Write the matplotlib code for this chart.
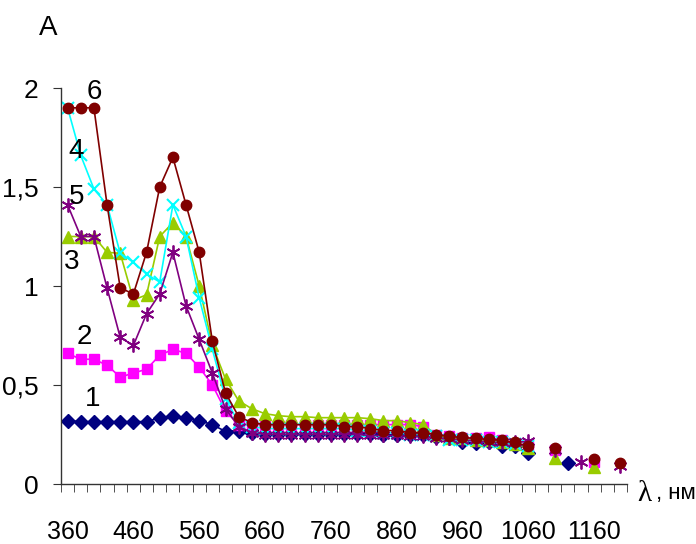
import numpy as np
import matplotlib
matplotlib.use("Agg")
import matplotlib.pyplot as plt
from matplotlib import font_manager

nan = np.nan

# wavelength categories, nm
wl = np.arange(360, 1201, 20)

# absorbance of samples 1..6 (gaps where nothing was measured)
a1 = [0.32, 0.315, 0.315, 0.315, 0.315, 0.315, 0.315, 0.335, 0.345, 0.335, 0.32, 0.30, 0.265,
      0.27, 0.26, 0.255, 0.255, 0.255, 0.255, 0.255, 0.255, 0.255, 0.255, 0.255, 0.25, 0.25,
      0.25, 0.245, 0.235, 0.23, 0.21, 0.205, 0.21, 0.19, 0.19, 0.157, nan, nan, 0.108, nan,
      nan, nan, nan]
a2 = [0.66, 0.63, 0.63, 0.60, 0.54, 0.56, 0.58, 0.65, 0.68, 0.66, 0.59, 0.50, 0.37,
      0.30, 0.30, 0.30, 0.30, 0.30, 0.30, 0.30, 0.30, 0.30, 0.30, 0.30, 0.30, 0.30,
      0.30, 0.29, 0.25, 0.24, 0.23, 0.23, 0.235, 0.22, 0.20, 0.19, nan, 0.17, nan, nan,
      0.11, nan, nan]
a3 = [1.25, 1.25, 1.25, 1.17, 1.165, 0.93, 0.955, 1.25, 1.32, 1.25, 1.0, 0.70, 0.53,
      0.42, 0.38, 0.355, 0.345, 0.34, 0.34, 0.335, 0.335, 0.335, 0.335, 0.33, 0.32, 0.32,
      0.31, 0.30, 0.25, 0.23, 0.23, 0.22, 0.22, 0.21, 0.20, 0.18, nan, 0.13, nan, nan,
      0.085, nan, nan]
a4 = [1.90, 1.66, 1.49, 1.41, 1.165, 1.12, 1.06, 1.02, 1.41, 1.25, 0.94, 0.68, 0.43,
      0.31, 0.29, 0.28, 0.28, 0.28, 0.28, 0.28, 0.28, 0.28, 0.27, 0.27, 0.26, 0.26,
      0.25, 0.25, 0.24, 0.22, 0.22, 0.22, 0.21, 0.21, 0.20, 0.19, nan, nan, nan, nan,
      nan, nan, nan]
a5 = [1.41, 1.25, 1.25, 0.99, 0.74, 0.70, 0.86, 0.96, 1.17, 0.90, 0.73, 0.56, 0.38,
      0.29, 0.26, 0.25, 0.25, 0.25, 0.25, 0.25, 0.25, 0.25, 0.25, 0.245, 0.245, 0.245,
      0.24, 0.24, 0.23, 0.23, 0.22, 0.22, 0.21, 0.21, 0.21, 0.215, nan, 0.17, nan, 0.113,
      nan, nan, 0.09]
a6 = [1.90, 1.90, 1.90, 1.41, 0.99, 0.96, 1.17, 1.50, 1.65, 1.41, 1.17, 0.72, 0.46,
      0.34, 0.31, 0.30, 0.30, 0.30, 0.30, 0.30, 0.30, 0.29, 0.29, 0.28, 0.27, 0.27,
      0.26, 0.26, 0.25, 0.24, 0.235, 0.23, 0.225, 0.22, 0.21, 0.19, nan, 0.18, nan, nan,
      0.125, nan, 0.105]

yticks = [0, 0.5, 1, 1.5, 2]
ytick_labels = ["0", "0,5", "1", "1,5", "2"]
xticks = np.arange(360, 1161, 100)


def pick_font(names):
    for n in names:
        try:
            font_manager.findfont(font_manager.FontProperties(family=n),
                                  fallback_to_default=False)
            return n
        except ValueError:
            pass
    return "DejaVu Sans"


sans = pick_font(["Liberation Sans Narrow", "Liberation Sans", "Arial"])
plt.rcParams["font.family"] = [sans, "DejaVu Sans"]

fig = plt.figure(figsize=(6.96, 5.44), dpi=100)
ax = fig.add_axes([61 / 696, 60 / 544, 566 / 696, 396 / 544])

styles = [
    (a1, "#000080", dict(marker="D", ms=7)),
    (a2, "#FF00FF", dict(marker="s", ms=6.5)),
    (a3, "#99CC00", dict(marker="^", ms=8)),
    (a4, "#00FFFF", dict(marker="x", ms=8, mew=1.5)),
    (a5, "#800080", dict(marker=(6, 2, 0), ms=10, mew=1.3)),
    (a6, "#800000", dict(marker="o", ms=7.5)),
]
for vals, col, mk in styles:
    ax.plot(wl, vals, color=col, lw=1.2, mfc=col, mec=col, clip_on=False, **mk)

# curve numbers
for txt, x, y in [("6", 400, 1.98), ("4", 373, 1.68), ("5", 373, 1.45),
                  ("3", 366, 1.12), ("2", 385, 0.74), ("1", 398, 0.43)]:
    ax.text(x, y, txt, fontsize=20, ha="center", va="center")

ax.set_xlim(350, 1210)
ax.set_ylim(0, 2)
for s in ["top", "right"]:
    ax.spines[s].set_visible(False)
for s in ["left", "bottom"]:
    ax.spines[s].set_color("#333333")
    ax.spines[s].set_linewidth(1.0)

ax.set_xticks(xticks)
ax.set_xticklabels([str(v) for v in xticks], fontsize=18)
ax.tick_params(axis="x", which="major", length=0, pad=26)
ax.set_xticks(np.arange(350, 1211, 20), minor=True)
ax.tick_params(axis="x", which="minor", length=6, direction="out", color="#333333")

ax.set_yticks(yticks)
ax.set_yticklabels(ytick_labels, fontsize=19)
ax.tick_params(axis="y", length=6, direction="out", color="#333333", pad=10)

fig.text(48 / 696, 1 - 28 / 544, "A", fontsize=20, ha="center", va="center")
fig.text(637 / 696, 1 - 494 / 544, "λ", family="Liberation Serif", fontsize=21,
         ha="left", va="center")
fig.text(656 / 696, 1 - 494 / 544, ", нм", fontsize=16, ha="left", va="center")

fig.savefig("out.png", dpi=100)
